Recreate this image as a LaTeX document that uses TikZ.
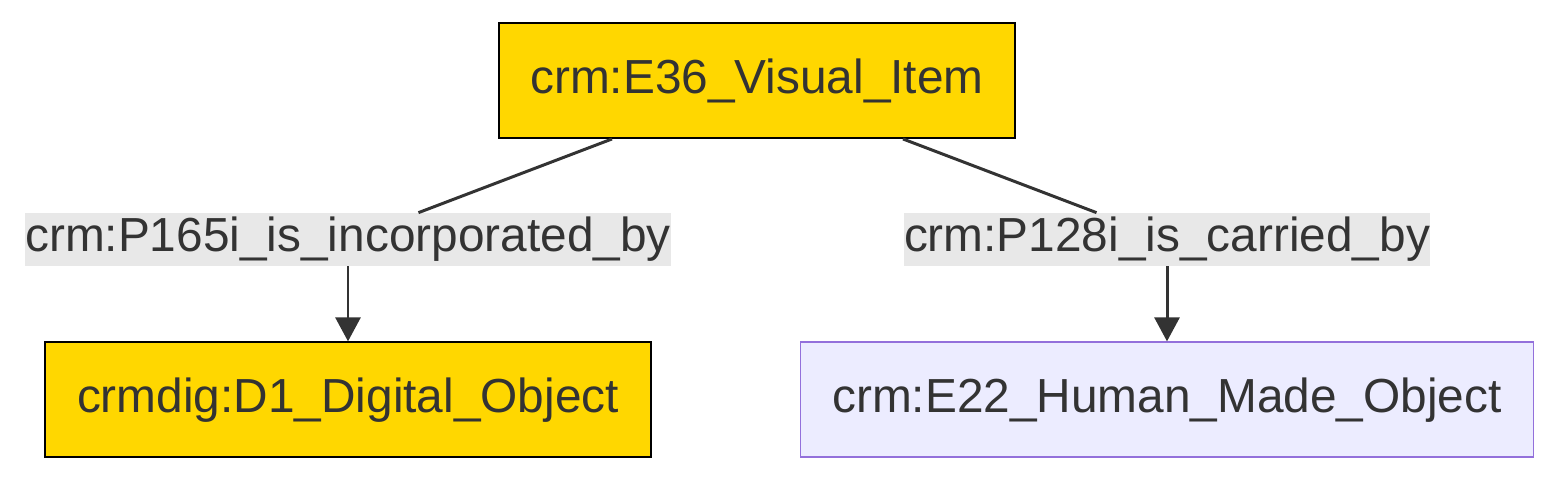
\documentclass[tikz,border=0pt]{standalone}
\usepackage{fontspec}
\setmainfont{Liberation Sans}
\usepackage{tikz}
\usetikzlibrary{arrows.meta, positioning}
\definecolor{mgold}{HTML}{FFD700}
\definecolor{mlavender}{HTML}{ECECFF}
\definecolor{mpurple}{HTML}{9370DB}
\definecolor{mtext}{HTML}{333333}
\definecolor{mlabel}{HTML}{E8E8E8}

\begin{document}
\begin{tikzpicture}[
      classbox/.style={draw=black, fill=mgold, minimum height=2.3cm,
                       align=center, font=\fontsize{27.2}{32}\selectfont,
                       text=mtext, line width=1.1pt},
      plainbox/.style={classbox, draw=mpurple, fill=mlavender},
      edgelabel/.style={fill=mlabel, inner sep=0pt, minimum height=1.06cm,
                        font=\fontsize{27.2}{32}\selectfont, text=mtext},
      link/.style={line width=1.7pt, color=mtext},
      arrow/.style={-{Triangle[length=0.48cm, width=0.5cm]}, line width=1.7pt, color=mtext},
    ]
    \useasboundingbox (0,0) rectangle (31.14,-9.6);
    \node[classbox, minimum width=10.32cm] (visual) at (15.14,-1.61) {crm:E36\_Visual\_Item};
    \node[edgelabel] (incorp) at (6.96,-4.79) {crm:P165i\_is\_incorporated\_by};
    \node[edgelabel] (carried) at (23.34,-4.79) {crm:P128i\_is\_carried\_by};
    \node[classbox, minimum width=12.12cm, below=1.5cm of incorp] (digital) {crmdig:D1\_Digital\_Object};
    \node[plainbox, minimum width=14.66cm, below=1.5cm of carried] (humanmade) {crm:E22\_Human\_Made\_Object};

    \draw[link]  ([xshift=-2.9cm]visual.south) -- (incorp);
    \draw[arrow] (incorp)  -- (digital);
    \draw[link]  ([xshift=2.92cm]visual.south) -- (carried);
    \draw[arrow] (carried) -- (humanmade);
  \end{tikzpicture}
\end{document}
